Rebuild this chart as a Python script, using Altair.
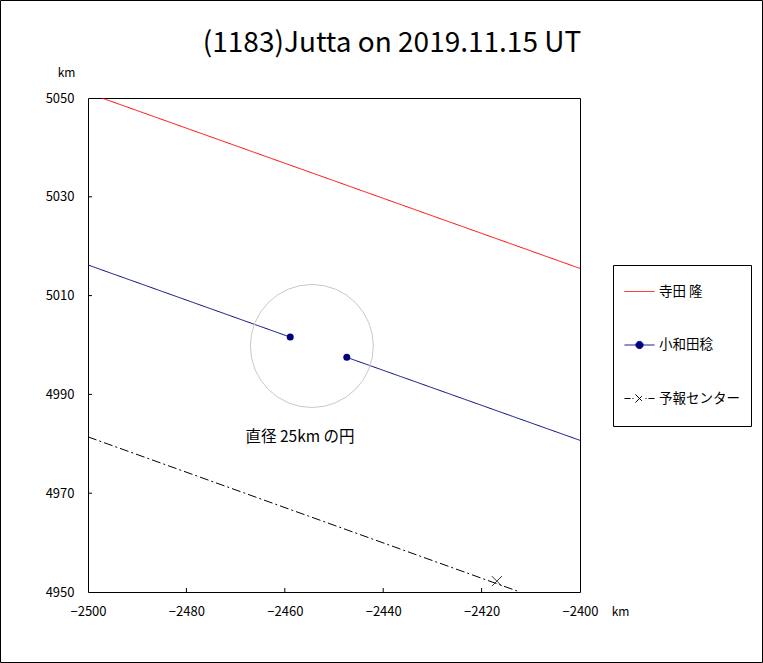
import altair as alt
import pandas as pd

# ---- data ----
series_names = ["寺田 隆", "小和田稔", "予報センター"]
series_colors = ["#FF0000", "#000080", "#000000"]

red_x = [-2497.2, -2400.0]
red_y = [5050.0, 5015.5]

navy_x = [-2500.0, -2458.9, -2447.4, -2400.0]
navy_y = [5016.2, 5001.6, 4997.5, 4980.7]
navy_seg = [1, 1, 2, 2]

navy_dot_x = [-2458.9, -2447.4]
navy_dot_y = [5001.6, 4997.5]

pred_x = [-2500.0, -2412.2]
pred_y = [4981.4, 4950.0]

cross_x = [-2416.9]
cross_y = [4952.2]

circle_x = [-2454.5]
circle_y = [4999.8]
circle_diameter_km = 25

note_text = ["直径 25km の円"]
note_x = [-2456.9]
note_y = [4981.4]

x_ticks = [-2500, -2480, -2460, -2440, -2420, -2400]
y_ticks = [4950, 4970, 4990, 5010, 5030, 5050]

title_text = "(1183)Jutta on 2019.11.15 UT"

# ---- layout ----
W, H = 492, 494
PAD_L, PAD_T = 88, 98
PAD_R, PAD_B = 763 - PAD_L - W, 663 - PAD_T - H
FONT = "Noto Sans CJK JP"

xdom = [x_ticks[0], x_ticks[-1]]
ydom = [y_ticks[0], y_ticks[-1]]
xscale = alt.Scale(domain=xdom, nice=False, zero=False)
yscale = alt.Scale(domain=ydom, nice=False, zero=False)
px_per_km = W / (xdom[1] - xdom[0])

x_axis = alt.Axis(values=x_ticks, format="d", ticks=False, domain=False, grid=False,
                  labelFlush=False, labelOverlap=False,
                  labelFont=FONT, labelFontSize=13, labelColor="black", labelPadding=13,
                  title="km", titleFont=FONT, titleFontSize=12, titleFontWeight="normal",
                  titleX=532, titleY=19, titleBaseline="middle", titleAlign="center")
y_axis = alt.Axis(values=y_ticks, format="d", ticks=False, domain=False, grid=False,
                  labelFlush=False, labelOverlap=False,
                  labelFont=FONT, labelFontSize=13, labelColor="black", labelPadding=14,
                  title="km", titleFont=FONT, titleFontSize=12, titleFontWeight="normal",
                  titleAngle=0, titleX=-22, titleY=-26, titleBaseline="middle",
                  titleAlign="center")


def X(field):
    return alt.X(field, scale=xscale, axis=x_axis, title="km")


def Y(field):
    return alt.Y(field, scale=yscale, axis=y_axis, title="km")


rows = []
for x, y in zip(red_x, red_y):
    rows.append({"series": series_names[0], "seg": 0, "x": x, "y": y})
for x, y, s in zip(navy_x, navy_y, navy_seg):
    rows.append({"series": series_names[1], "seg": s, "x": x, "y": y})
for x, y in zip(pred_x, pred_y):
    rows.append({"series": series_names[2], "seg": 0, "x": x, "y": y})
lines_df = pd.DataFrame(rows)

path_red = "M-1,0L1,0"
path_navy = ("M-1,0L1,0M-0.24,0A0.24,0.24,0,1,0,0.24,0A0.24,0.24,0,1,0,-0.24,0Z")
path_pred = ("M-1,0L-0.6,0M-0.47,0L-0.4,0M-0.27,-0.27L0.27,0.27M-0.27,0.27L0.27,-0.27"
             "M0.4,0L0.47,0M0.6,0L1,0")
sym_expr = (f"datum.value === '{series_names[0]}' ? '{path_red}' : "
            f"datum.value === '{series_names[1]}' ? '{path_navy}' : '{path_pred}'")
fill_expr = f"datum.value === '{series_names[1]}' ? '{series_colors[1]}' : 'transparent'"

legend = alt.Legend(
    title=" ", titleOrient="bottom", titleFontSize=8, titlePadding=2,
    orient="none", legendX=525, legendY=167,
    strokeColor="black", fillColor="white", padding=11,
    symbolType=alt.ExprRef(expr=sym_expr),
    symbolFillColor=alt.ExprRef(expr=fill_expr),
    symbolSize=900, symbolStrokeWidth=1, rowPadding=31.5,
    labelFont=FONT, labelFontSize=13.5, labelColor="black", labelOffset=4,
    labelLimit=200,
)

lines = alt.Chart(lines_df).mark_line(strokeWidth=1, clip=True).encode(
    x=X("x:Q"),
    y=Y("y:Q"),
    color=alt.Color("series:N", scale=alt.Scale(domain=series_names, range=series_colors),
                    legend=legend),
    strokeDash=alt.StrokeDash("series:N",
                              scale=alt.Scale(domain=series_names,
                                              range=[[1, 0], [1, 0], [9, 3, 2, 3]]),
                              legend=None),
    detail="seg:N",
)

dots = alt.Chart(pd.DataFrame({"x": navy_dot_x, "y": navy_dot_y})).mark_point(
    shape="circle", filled=True, size=49, color=series_colors[1], opacity=1
).encode(x=X("x:Q"), y=Y("y:Q"))

cross = alt.Chart(pd.DataFrame({"x": cross_x, "y": cross_y})).mark_point(
    shape="M-1,-1L1,1M-1,1L1,-1", filled=False, size=100, stroke="#333333",
    strokeWidth=1, opacity=1
).encode(x=X("x:Q"), y=Y("y:Q"))

circle = alt.Chart(pd.DataFrame({"x": circle_x, "y": circle_y})).mark_point(
    shape="circle", filled=False, size=(circle_diameter_km * px_per_km) ** 2,
    stroke="#C8C8C8", strokeWidth=1, opacity=1
).encode(x=X("x:Q"), y=Y("y:Q"))

note = alt.Chart(pd.DataFrame({"x": note_x, "y": note_y, "t": note_text})).mark_text(
    font=FONT, fontSize=15.5, color="black", align="center", baseline="middle"
).encode(x=X("x:Q"), y=Y("y:Q"), text="t:N")

xt = alt.Chart(pd.DataFrame({"x": x_ticks[1:-1]})).mark_rule(color="black", strokeWidth=1).encode(
    x=X("x:Q"), y=alt.value(H), y2=alt.value(H - 4))
yt = alt.Chart(pd.DataFrame({"y": y_ticks[1:-1]})).mark_rule(color="black", strokeWidth=1).encode(
    y=Y("y:Q"), x=alt.value(0), x2=alt.value(4))

frame = alt.Chart(pd.DataFrame({"a": [0]})).mark_rect(
    fill="transparent", stroke="black", strokeWidth=1, clip=False
).encode(x=alt.value(-PAD_L + 0.5), x2=alt.value(W + PAD_R - 0.5),
         y=alt.value(-PAD_T + 0.5), y2=alt.value(H + PAD_B - 0.5))

chart = alt.layer(lines, circle, dots, cross, note, xt, yt, frame).properties(
    width=W, height=H,
    padding={"left": PAD_L, "top": PAD_T, "right": PAD_R, "bottom": PAD_B},
    autosize=alt.AutoSizeParams(type="none"),
    background="white",
    title=alt.TitleParams(title_text, font=FONT, fontSize=28, fontWeight="normal",
                          color="black", anchor="middle", frame="group",
                          offset=0, baseline="bottom", dx=58, dy=86),
).configure_view(stroke="black", strokeWidth=1)

chart.save("out.html", embed_options={"renderer": "svg", "actions": False})
